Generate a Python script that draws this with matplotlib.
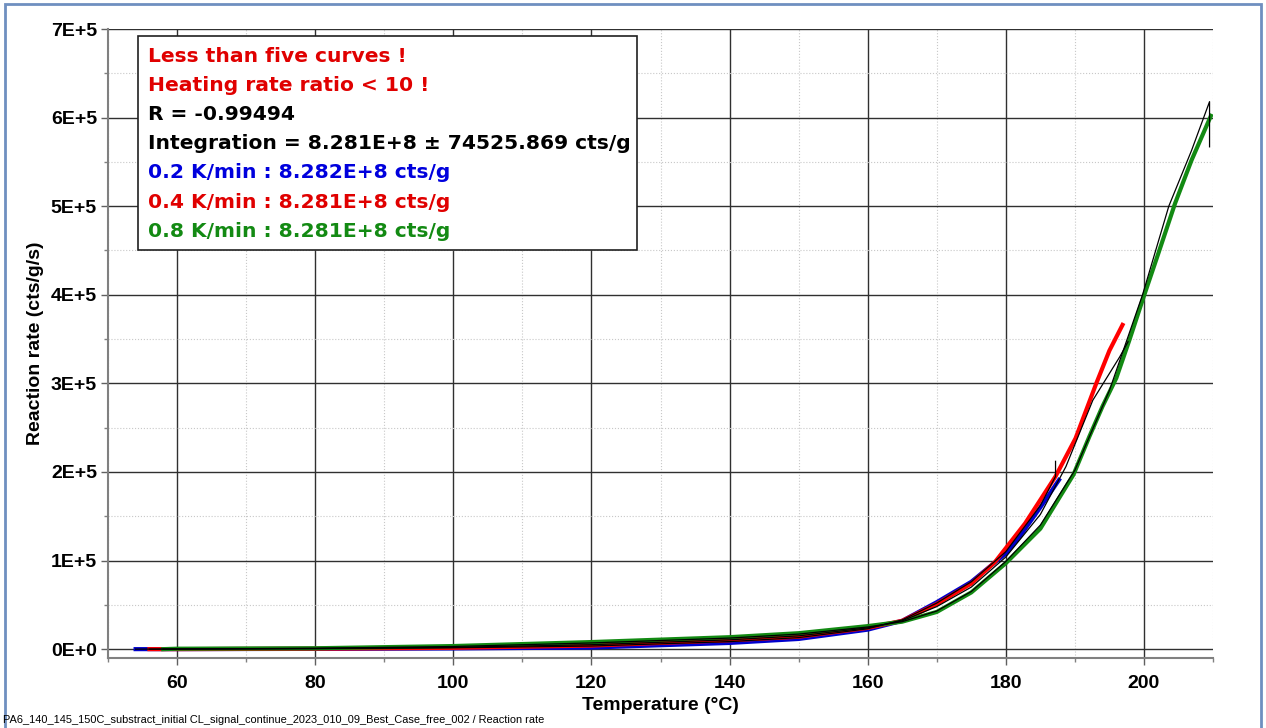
import matplotlib
matplotlib.use('Agg')
import matplotlib.pyplot as plt
from matplotlib.patches import Rectangle
from matplotlib.ticker import MultipleLocator, FuncFormatter

plt.rcParams['font.family'] = ['Liberation Sans', 'DejaVu Sans']

# measured curves (temperature in °C, reaction rate in cts/g/s)
t_02 = [54, 60, 80, 100, 120, 140, 150, 160, 165, 170, 175, 180, 182, 185, 187.7]
r_02 = [0, 0, 300, 800, 1800, 7000, 11500, 22000, 32000, 53000, 76000, 108000, 127000, 160000, 191000]

t_04 = [56, 60, 80, 100, 120, 140, 150, 160, 165, 170, 175, 178.4, 182.8, 187.2, 190.1, 193.1, 195, 196.9]
r_04 = [0, 0, 500, 1500, 4000, 10000, 14000, 24000, 32000, 51000, 74000, 98000, 142000, 195000, 238000, 300000, 337000, 366000]

t_08 = [58, 60, 80, 100, 120, 140, 150, 160, 165, 170, 175, 180, 185, 189.8, 192.1, 194, 196, 197.9, 199.8,
        202.1, 204.5, 206.9, 209.7]
r_08 = [0, 500, 1000, 3500, 8000, 13500, 18000, 26000, 31000, 42000, 64000, 97000, 136000, 197000, 240000,
        274000, 306000, 349000, 394000, 447000, 503000, 552000, 602000]

# fitted curves (thin black)
t_fit_02 = [54, 80, 100, 120, 140, 150, 160, 165, 170, 175, 180, 185, 187.2, 187.2]
f_fit_02 = [0, 600, 1500, 3500, 8500, 13000, 23000, 33000, 52000, 76000, 110000, 162000, 195000, 212000]

t_fit_04 = [56, 80, 100, 120, 140, 150, 160, 165, 170, 175, 180, 185, 188.7, 192.6, 196.5, 197.7]
f_fit_04 = [0, 700, 2000, 5000, 10500, 15000, 24000, 32000, 48000, 70000, 104000, 152000, 206000, 281000, 330000, 347000]

t_fit_08 = [58, 80, 100, 120, 140, 150, 160, 165, 170, 175, 180, 185, 190, 195, 199.8, 203.6, 206.9, 209.5, 209.5]
f_fit_08 = [0, 1000, 3000, 7000, 12500, 17000, 25000, 31000, 43000, 65000, 99000, 140000, 202000, 292000, 400000,
            500000, 563000, 618000, 567000]

info_lines = ["Less than five curves !", "Heating rate ratio < 10 !", "R = -0.99494",
              "Integration = 8.281E+8 \u00b1 74525.869 cts/g",
              "0.2 K/min : 8.282E+8 cts/g", "0.4 K/min : 8.281E+8 cts/g", "0.8 K/min : 8.281E+8 cts/g"]
info_colors = ['#e00000', '#e00000', 'black', 'black', '#0000dd', '#e00000', '#138a13']

footer = "PA6_140_145_150C_substract_initial CL_signal_continue_2023_010_09_Best_Case_free_002 / Reaction rate"

fig = plt.figure(figsize=(12.66, 7.28), dpi=100)
ax = fig.add_axes([108/1266, 1 - 658/728, (1213 - 108)/1266, (658 - 29)/728])

ax.plot(t_02, r_02, color='#0000cc', lw=3)
ax.plot(t_04, r_04, color='#ff0000', lw=3)
ax.plot(t_08, r_08, color='#138a13', lw=3)
for t, f in [(t_fit_02, f_fit_02), (t_fit_04, f_fit_04), (t_fit_08, f_fit_08)]:
    ax.plot(t, f, color='black', lw=0.9)

ax.set_xlim(50, 210)
ax.set_ylim(-10000, 700000)
ax.xaxis.set_major_locator(MultipleLocator(20))
ax.xaxis.set_minor_locator(MultipleLocator(10))
ax.yaxis.set_major_locator(MultipleLocator(100000))
ax.yaxis.set_minor_locator(MultipleLocator(50000))
ax.yaxis.set_major_formatter(FuncFormatter(lambda v, p: '0E+0' if v == 0 else '%dE+5' % round(v / 1e5)))

ax.grid(which='major', color='#303030', lw=1.0)
ax.grid(which='minor', color='#c8c8c8', lw=0.8, ls=':')
ax.set_axisbelow(True)
for s in ['top', 'right']:
    ax.spines[s].set_visible(False)
for s in ['left', 'bottom']:
    ax.spines[s].set_color('#808080')
    ax.spines[s].set_linewidth(1.5)
ax.tick_params(which='major', length=5, width=1, color='#606060', labelsize=14, pad=3)
ax.tick_params(axis='x', which='major', pad=7)
ax.tick_params(which='minor', length=3, width=1, color='#808080')
for lbl in ax.get_xticklabels() + ax.get_yticklabels():
    lbl.set_fontweight('bold')

ax.set_xlabel('Temperature (\u00b0C)', fontsize=14, fontweight='bold', labelpad=4)
ax.set_ylabel('Reaction rate (cts/g/s)', fontsize=14, fontweight='bold', labelpad=5)

# info box
fig.patches.append(Rectangle((138/1266, 1 - 250/728), (637 - 138)/1266, (250 - 36)/728,
                             transform=fig.transFigure, facecolor='white', edgecolor='#202020', lw=1.2, zorder=5))
for i, (txt, c) in enumerate(zip(info_lines, info_colors)):
    fig.text(148/1266, 1 - (56 + 29.2 * i)/728, txt, color=c, fontsize=14.6, fontweight='bold',
             family='DejaVu Sans', va='center', ha='left', zorder=6)

# outer frame and footer
fig.patches.append(Rectangle((5/1266, -0.02), (1261 - 5)/1266, 1 - 4/728 + 0.02,
                             transform=fig.transFigure, facecolor='none', edgecolor='#6f8fc0', lw=2))
fig.text(3/1266, 1 - 720/728, footer, fontsize=7.9, va='center', ha='left')

fig.savefig('out.png', dpi=100)
